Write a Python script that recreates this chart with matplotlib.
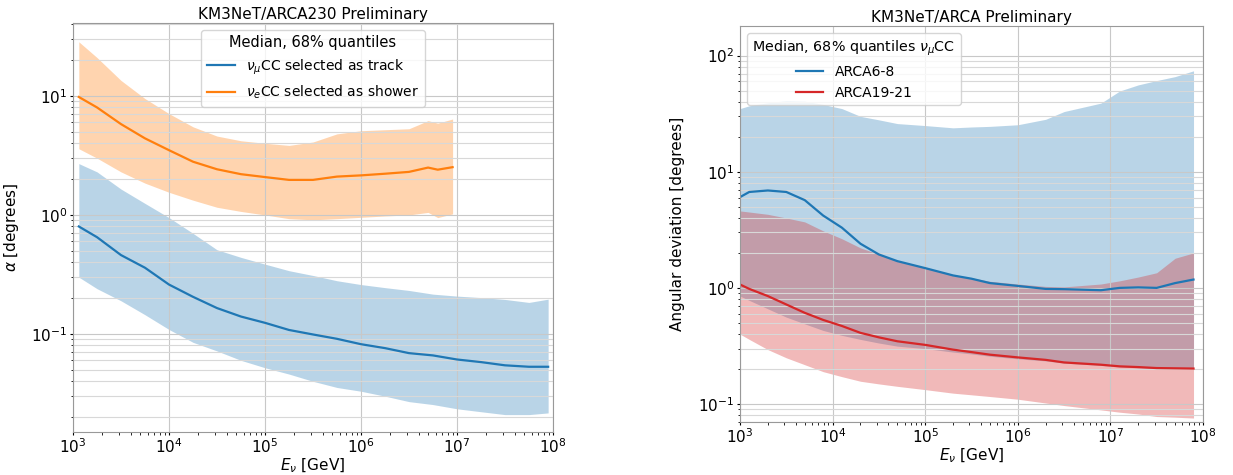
import numpy as np
import matplotlib
matplotlib.use("Agg")
from matplotlib import pyplot as plt

# ---------------- left panel: KM3NeT/ARCA230 ----------------
e_track = [1.15e3, 1.78e3, 3.16e3, 5.62e3, 1.0e4, 1.78e4, 3.16e4, 5.62e4, 1.0e5, 1.78e5,
           3.16e5, 5.62e5, 1.0e6, 1.78e6, 3.16e6, 5.62e6, 1.0e7, 1.78e7, 3.16e7, 5.62e7, 8.9e7]
track_med = [0.80, 0.65, 0.46, 0.36, 0.26, 0.205, 0.165, 0.140, 0.124, 0.108,
             0.099, 0.091, 0.082, 0.076, 0.069, 0.066, 0.061, 0.058, 0.0545, 0.053, 0.053]
track_hi = [2.7, 2.3, 1.65, 1.25, 0.95, 0.70, 0.51, 0.44, 0.386, 0.34,
            0.31, 0.28, 0.26, 0.245, 0.232, 0.216, 0.208, 0.202, 0.195, 0.184, 0.196]
track_lo = [0.30, 0.24, 0.19, 0.145, 0.109, 0.085, 0.072, 0.060, 0.052, 0.046,
            0.040, 0.0355, 0.033, 0.030, 0.027, 0.0255, 0.0235, 0.0222, 0.021, 0.021, 0.0217]

e_shower = [1.15e3, 1.78e3, 3.16e3, 5.62e3, 1.0e4, 1.78e4, 3.16e4, 5.62e4, 1.0e5, 1.78e5,
            3.16e5, 5.62e5, 1.0e6, 1.78e6, 3.16e6, 5.0e6, 6.3e6, 9.0e6]
shower_med = [9.8, 8.0, 5.8, 4.4, 3.5, 2.8, 2.42, 2.2, 2.08, 1.97,
              1.97, 2.10, 2.15, 2.22, 2.30, 2.50, 2.40, 2.52]
shower_hi = [28.5, 21.0, 13.5, 9.5, 7.1, 5.5, 4.6, 4.2, 4.0, 3.84,
             4.1, 4.8, 5.1, 5.2, 5.3, 6.2, 5.9, 6.4]
shower_lo = [3.6, 3.0, 2.3, 1.85, 1.55, 1.33, 1.16, 1.07, 1.0, 0.93,
             0.91, 0.93, 0.955, 0.98, 1.0, 1.05, 0.95, 1.02]

# ---------------- right panel: KM3NeT/ARCA ----------------
e_arca = [1.0e3, 1.26e3, 2.0e3, 3.16e3, 5.0e3, 7.9e3, 1.26e4, 2.0e4, 3.16e4, 5.0e4, 1.0e5, 2.0e5,
          3.16e5, 5.0e5, 1.0e6, 2.0e6, 3.16e6, 7.9e6, 1.26e7, 2.0e7, 3.16e7, 5.0e7, 7.9e7]
a68_med = [6.05, 6.7, 6.9, 6.7, 5.7, 4.2, 3.3, 2.4, 1.94, 1.70, 1.48, 1.28,
           1.20, 1.10, 1.04, 0.98, 0.975, 0.955, 1.0, 1.01, 1.0, 1.10, 1.18]
a68_hi = [35, 37, 39.3, 41, 40.6, 38, 35, 30, 28, 26, 25, 23.9,
          24.3, 24.6, 25.4, 28.3, 33, 39, 49.6, 56, 61, 66, 74]
a68_lo = [0.85, 0.78, 0.66, 0.56, 0.49, 0.43, 0.39, 0.36, 0.335, 0.315, 0.30, 0.28,
          0.27, 0.258, 0.245, 0.235, 0.225, 0.215, 0.208, 0.205, 0.202, 0.201, 0.20]
a1921_med = [1.07, 0.98, 0.85, 0.72, 0.61, 0.53, 0.47, 0.41, 0.375, 0.347, 0.323, 0.294,
             0.280, 0.266, 0.252, 0.240, 0.228, 0.218, 0.211, 0.208, 0.204, 0.203, 0.202]
a1921_hi = [4.6, 4.5, 4.3, 4.0, 3.7, 3.1, 2.65, 2.21, 1.95, 1.72, 1.48, 1.30,
            1.22, 1.14, 1.08, 1.03, 1.02, 1.08, 1.15, 1.24, 1.35, 1.8, 2.0]
a1921_lo = [0.40, 0.36, 0.294, 0.25, 0.218, 0.19, 0.172, 0.157, 0.149, 0.142, 0.133, 0.124,
            0.120, 0.116, 0.110, 0.102, 0.097, 0.089, 0.085, 0.082, 0.078, 0.077, 0.0757]

fig = plt.figure(figsize=(12.33, 4.75), dpi=100)
W, H = 1233, 475
ax1 = fig.add_axes([73 / W, 1 - 432 / H, 480 / W, 409 / H])
ax2 = fig.add_axes([740 / W, 1 - 422 / H, 463 / W, 396 / H])

ax1.fill_between(e_track, track_lo, track_hi, color="tab:blue", alpha=0.31, lw=0)
ax1.plot(e_track, track_med, color="tab:blue", lw=1.6, label=r"$\nu_\mu$CC selected as track")
ax1.fill_between(e_shower, shower_lo, shower_hi, color="tab:orange", alpha=0.33, lw=0)
ax1.plot(e_shower, shower_med, color="tab:orange", lw=1.6, label=r"$\nu_e$CC selected as shower")
ax1.set_ylim(0.015, 41)
ax1.set_ylabel(r"$\alpha$ [degrees]", fontsize=11)
ax1.yaxis.set_label_coords((21 - 73) / 480, 0.5)
ax1.set_title("KM3NeT/ARCA230 Preliminary", fontsize=11, pad=3)
ax1.legend(title="Median, 68% quantiles", loc="upper center", fontsize=10, title_fontsize=10.5)

ax2.fill_between(e_arca, a68_lo, a68_hi, color="tab:blue", alpha=0.31, lw=0)
ax2.plot(e_arca, a68_med, color="tab:blue", lw=1.6, label="ARCA6-8")
ax2.fill_between(e_arca, a1921_lo, a1921_hi, color="tab:red", alpha=0.32, lw=0)
ax2.plot(e_arca, a1921_med, color="tab:red", lw=1.6, label="ARCA19-21")
ax2.set_ylim(0.07, 180)
ax2.set_ylabel("Angular deviation [degrees]", fontsize=11)
ax2.yaxis.set_label_coords((685 - 740) / 463, 0.5)
ax2.set_title("KM3NeT/ARCA Preliminary", fontsize=11, pad=3)
ax2.legend(title=r"Median, 68% quantiles $\nu_\mu$CC", loc="upper left", fontsize=10, title_fontsize=10.3)

for ax in (ax1, ax2):
    ax.set_xscale("log")
    ax.set_yscale("log")
    ax.set_xlim(1e3, 1e8)
    ax.set_xlabel(r"$E_\nu$ [GeV]", fontsize=11, labelpad=0)
    ax.tick_params(labelsize=11, pad=1.5, length=2.5)
    ax.tick_params(which="minor", length=1.8)
    ax.grid(True, which="major", color="#c8c8c8", lw=0.8)
    ax.yaxis.grid(True, which="minor", color="#d8d8d8", lw=0.8)
    for s in ax.spines.values():
        s.set_color("#999999")

fig.savefig("out.png", dpi=100)
